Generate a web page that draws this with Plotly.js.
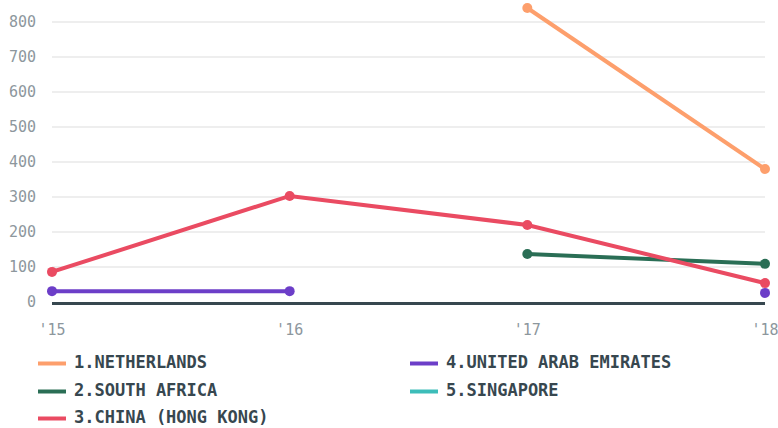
<!DOCTYPE html>
<html><head><meta charset="utf-8">
<script src="https://cdn.plot.ly/plotly-3.0.1.min.js"></script>
<style>html,body{margin:0;padding:0;background:#fff;}#chart{width:778px;height:428px;}</style>
</head><body><div id="chart"></div>
<script>
const years = ["'15", "'16", "'17", "'18"];
const netherlands = [null, null, 840, 380];
const southAfrica = [null, null, 137, 109];
const chinaHK = [86, 303, 220, 54];
const uae = [31, 31, null, 26];
const singapore = [null, null, null, null];
const names = ["1.NETHERLANDS", "2.SOUTH AFRICA", "3.CHINA (HONG KONG)", "4.UNITED ARAB EMIRATES", "5.SINGAPORE"];
const colors = ["#fd9f6c", "#2a6e55", "#ea4b62", "#6c3ec8", "#3dbdb9"];
const series = [netherlands, southAfrica, chinaHK, uae, singapore];
const yTicks = [0, 100, 200, 300, 400, 500, 600, 700, 800];

// layout geometry (pixels)
const W = 778, H = 428, ML = 52, MR = 13, MT = 1, MB = 126;
const pw = W - ML - MR, ph = H - MT - MB;
const px = x => (x - ML) / pw;
const py = y => (H - MB - y) / ph;
const legCol = [[38, 66, 72], [38, 66, 72], [38, 66, 72], [410, 438, 444], [410, 438, 444]];
const legRow = [362, 390, 417, 362, 390];

const traces = [];
series.forEach((vals, i) => {
  traces.push({
    type: 'scatter', mode: 'lines+markers', x: years, y: vals, name: names[i],
    line: {color: colors[i], width: 4}, marker: {color: colors[i], size: 10},
    cliponaxis: false, connectgaps: false, showlegend: false
  });
});

const shapes = [], annotations = [];
names.forEach((n, i) => {
  const [x0, x1, tx] = legCol[i];
  shapes.push({type: 'line', xref: 'paper', yref: 'paper', x0: px(x0), x1: px(x1),
    y0: py(legRow[i] + 1.5), y1: py(legRow[i] + 1.5), line: {color: colors[i], width: 4}});
  annotations.push({xref: 'paper', yref: 'paper', x: px(tx), y: py(legRow[i]), xanchor: 'left', yanchor: 'middle',
    text: n, showarrow: false,
    font: {family: 'DejaVu Sans Mono', size: 17, color: '#37474f', weight: 'bold'}});
});

const layout = {
  width: W, height: H,
  margin: {l: ML, r: MR, t: MT, b: MB},
  paper_bgcolor: '#fff', plot_bgcolor: '#fff',
  showlegend: false,
  xaxis: {type: 'category', range: [0, 3], showgrid: false, zeroline: false,
    showline: true, linecolor: '#37474f', linewidth: 3,
    ticks: 'outside', ticklen: 12, tickcolor: 'rgba(0,0,0,0)',
    tickfont: {family: 'DejaVu Sans Mono', size: 15, color: '#8d979d'}},
  yaxis: {range: [0, 860], tickvals: yTicks, ticktext: yTicks.map(String),
    showgrid: true, gridcolor: '#eeeeee', gridwidth: 2, zeroline: false,
    ticks: 'outside', ticklen: 12, tickcolor: 'rgba(0,0,0,0)',
    tickfont: {family: 'DejaVu Sans Mono', size: 15, color: '#8d979d'}},
  shapes: shapes, annotations: annotations
};
Plotly.newPlot('chart', traces, layout, {displayModeBar: false, staticPlot: true});
</script></body></html>
